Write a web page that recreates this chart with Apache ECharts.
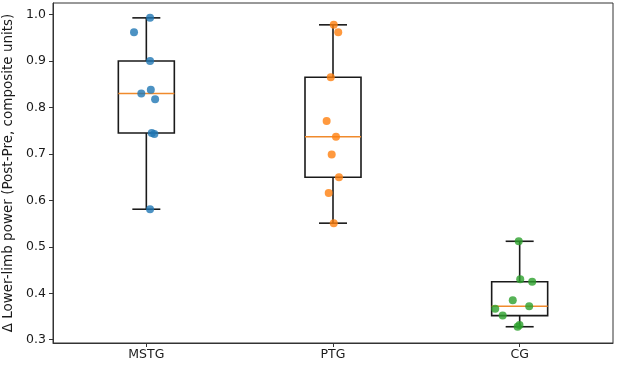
<!DOCTYPE html>
<html>
<head>
<meta charset="utf-8">
<script src="https://cdn.jsdelivr.net/npm/echarts@6/dist/echarts.min.js"></script>
<style>
  html, body { margin: 0; padding: 0; background: #fff; }
  #chart { width: 617px; height: 367px; }
</style>
</head>
<body>
<div id="chart"></div>
<script>
// groups and raw values
var groups = ['MSTG', 'PTG', 'CG'];
var colors = ['#1f77b4', '#ff7f0e', '#2ca02c'];

var mstgValues = [0.993, 0.962, 0.900, 0.838, 0.830, 0.818, 0.745, 0.743, 0.581];
var mstgJitter = [0.020, -0.066, 0.020, 0.024, -0.027, 0.047, 0.029, 0.043, 0.020];

var ptgValues = [0.978, 0.962, 0.865, 0.771, 0.737, 0.699, 0.650, 0.616, 0.551];
var ptgJitter = [0.004, 0.028, -0.012, -0.034, 0.016, -0.007, 0.032, -0.023, 0.004];

var cgValues = [0.512, 0.430, 0.425, 0.385, 0.372, 0.367, 0.352, 0.328, 0.332];
var cgJitter = [-0.005, 0.003, 0.067, -0.037, 0.051, -0.131, -0.091, -0.011, -0.001];

var yTicks = [0.3, 0.4, 0.5, 0.6, 0.7, 0.8, 0.9, 1.0];

var allValues = [mstgValues, ptgValues, cgValues];
var allJitter = [mstgJitter, ptgJitter, cgJitter];

// quartiles like numpy's linear percentile
function quantile(sorted, p) {
    var pos = (sorted.length - 1) * p;
    var lo = Math.floor(pos), hi = Math.ceil(pos);
    return sorted[lo] + (sorted[hi] - sorted[lo]) * (pos - lo);
}

var boxData = allValues.map(function (vals, i) {
    var s = vals.slice().sort(function (a, b) { return a - b; });
    return [i + 1, s[0], quantile(s, 0.25), quantile(s, 0.5), quantile(s, 0.75), s[s.length - 1]];
});

var chart = echarts.init(document.getElementById('chart'));

var series = [{
    type: 'custom',
    z: 2,
    data: boxData,
    renderItem: function (params, api) {
        var x = api.value(0);
        var hw = 0.15, cw = 0.075;
        var pMin = api.coord([x, api.value(1)]);
        var pQ1 = api.coord([x, api.value(2)]);
        var pMed = api.coord([x, api.value(3)]);
        var pQ3 = api.coord([x, api.value(4)]);
        var pMax = api.coord([x, api.value(5)]);
        var left = api.coord([x - hw, 0])[0];
        var right = api.coord([x + hw, 0])[0];
        var cl = api.coord([x - cw, 0])[0];
        var cr = api.coord([x + cw, 0])[0];
        var line = { stroke: '#1a1a1a', lineWidth: 1.6 };
        return {
            type: 'group',
            children: [
                { type: 'rect', shape: { x: left, y: pQ3[1], width: right - left, height: pQ1[1] - pQ3[1] },
                  style: { fill: 'none', stroke: '#1a1a1a', lineWidth: 1.6 } },
                { type: 'line', shape: { x1: pMin[0], y1: pQ1[1], x2: pMin[0], y2: pMin[1] }, style: line },
                { type: 'line', shape: { x1: pMax[0], y1: pQ3[1], x2: pMax[0], y2: pMax[1] }, style: line },
                { type: 'line', shape: { x1: cl, y1: pMin[1], x2: cr, y2: pMin[1] }, style: line },
                { type: 'line', shape: { x1: cl, y1: pMax[1], x2: cr, y2: pMax[1] }, style: line },
                { type: 'line', shape: { x1: left, y1: pMed[1], x2: right, y2: pMed[1] },
                  style: { stroke: '#f08a2c', lineWidth: 1.6 } }
            ]
        };
    }
}];

allValues.forEach(function (vals, i) {
    series.push({
        type: 'scatter',
        z: 3,
        symbolSize: 8,
        itemStyle: { color: colors[i], opacity: 0.8 },
        data: vals.map(function (v, j) { return [i + 1 + allJitter[i][j], v]; })
    });
});

chart.setOption({
    animation: false,
    textStyle: { fontFamily: 'DejaVu Sans' },
    grid: {
        left: 53, right: 4, top: 3, bottom: 24,
        outerBoundsMode: 'none',
        show: true, borderColor: '#333', borderWidth: 1
    },
    xAxis: {
        type: 'value',
        min: 0.5,
        max: 3.5,
        splitLine: { show: false },
        axisLine: { show: true, lineStyle: { color: '#333' } },
        axisTick: { show: true, length: 4, customValues: [1, 2, 3], lineStyle: { color: '#333' } },
        axisLabel: {
            customValues: [1, 2, 3],
            color: '#1a1a1a', fontSize: 12.5, margin: 5,
            formatter: function (v) { return groups[Math.round(v) - 1] || ''; }
        }
    },
    yAxis: {
        type: 'value',
        min: 0.293,
        max: 1.025,
        name: 'Δ Lower-limb power (Post-Pre, composite units)',
        nameLocation: 'middle',
        nameGap: 30,
        nameTextStyle: { color: '#1a1a1a', fontSize: 13.5 },
        splitLine: { show: false },
        axisLine: { show: true, lineStyle: { color: '#333' } },
        axisTick: { show: true, length: 4, customValues: yTicks, lineStyle: { color: '#333' } },
        axisLabel: {
            customValues: yTicks,
            color: '#1a1a1a', fontSize: 12.5, margin: 7,
            formatter: function (v) { return v.toFixed(1); }
        }
    },
    series: series
});
</script>
</body>
</html>
